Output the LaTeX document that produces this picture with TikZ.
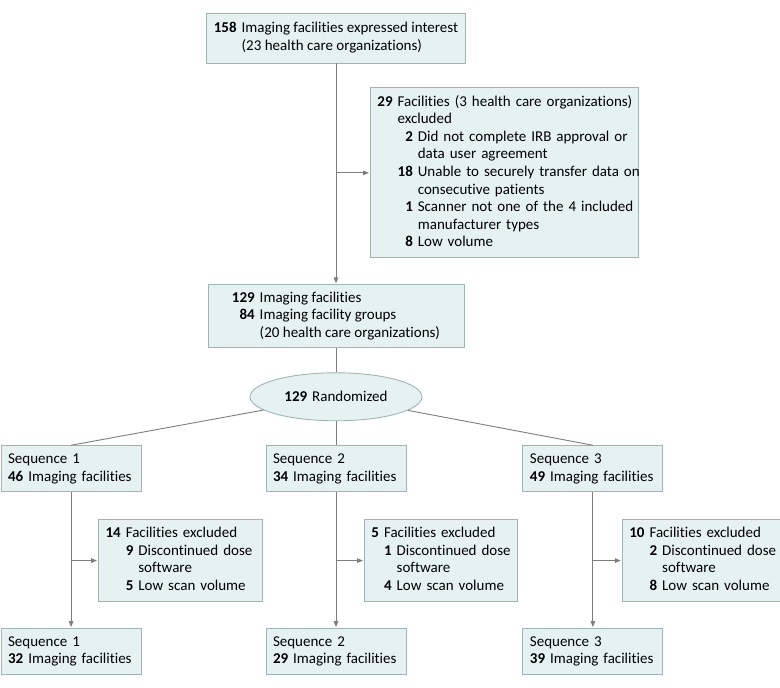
\documentclass[tikz,border=0pt]{standalone}
\usepackage{fontspec}
\setmainfont{Carlito}[Ligatures=NoCommon]
\usepackage{tikz}
\usetikzlibrary{positioning,shapes.geometric,arrows.meta}
\definecolor{boxfill}{RGB}{230,242,242}
\definecolor{boxline}{RGB}{160,180,182}
\definecolor{linkgray}{RGB}{125,125,125}

\begin{document}
\begin{tikzpicture}[x=1pt,y=1pt,
    font=\fontsize{15}{17.6}\selectfont,
    box/.style={rectangle,draw=boxline,fill=boxfill,line width=0.9pt,inner xsep=7pt,inner ysep=4pt},
    seq box/.style={box,minimum width=140pt,minimum height=46pt,text width=126pt,align=left},
    ex box/.style={box,minimum height=82pt,align=left},
    link/.style={draw=linkgray,line width=0.9pt},
    arrow/.style={link,shorten >=1pt,-{Triangle[length=6pt,width=4.5pt]}}]
  \useasboundingbox (0,0) rectangle (780,-688);

  \node[box,minimum width=258pt,minimum height=50pt] (interest) at (336,-38)
    {\begin{tabular}{@{}r@{\hspace{5pt}}l@{}}
      \textbf{158} & Imaging facilities expressed interest\\
                   & (23 health care organizations)
     \end{tabular}};
  \node[ex box,text width=254pt,minimum height=170pt] (excluded) [below right=24pt and 34pt of interest.south]
    {\begin{tabular}{@{}r@{\hspace{5pt}}r@{\hspace{5pt}}l@{}}
      \textbf{29} & \multicolumn{2}{@{}l@{}}{Facilities (3 health care organizations)}\\
                  & \multicolumn{2}{@{}l@{}}{excluded}\\
       & \textbf{2}  & Did not complete IRB approval or\\
       &             & data user agreement\\
       & \textbf{18} & Unable to securely transfer data on\\
       &             & consecutive patients\\
       & \textbf{1}  & Scanner not one of the 4 included\\
       &             & manufacturer types\\
       & \textbf{8}  & Low volume
     \end{tabular}};
  \node[box,minimum width=256pt,minimum height=63pt] (facilities) [below=221pt of interest]
    {\begin{tabular}{@{}r@{\hspace{5pt}}l@{}}
      \textbf{129} & Imaging facilities\\
      \textbf{84}  & Imaging facility groups\\
                   & (20 health care organizations)
     \end{tabular}};
  \node[ellipse,draw=boxline,fill=boxfill,line width=0.9pt,minimum width=172pt,minimum height=48pt,inner sep=0pt]
    (rand) [below=24pt of facilities] {\textbf{129}\hspace{5pt}Randomized};

  % sequences after randomization
  \node[seq box] (seq2) [below=24pt of rand]
    {\begin{tabular}{@{}r@{\hspace{5pt}}l@{}}\multicolumn{2}{@{}l@{}}{Sequence 2}\\ \textbf{34} & Imaging facilities\end{tabular}};
  \node[seq box] (seq1) [left=124pt of seq2]
    {\begin{tabular}{@{}r@{\hspace{5pt}}l@{}}\multicolumn{2}{@{}l@{}}{Sequence 1}\\ \textbf{46} & Imaging facilities\end{tabular}};
  \node[seq box] (seq3) [right=116pt of seq2]
    {\begin{tabular}{@{}r@{\hspace{5pt}}l@{}}\multicolumn{2}{@{}l@{}}{Sequence 3}\\ \textbf{49} & Imaging facilities\end{tabular}};

  \node[ex box,text width=150pt] (ex1) [below right=27pt and 27pt of seq1.south]
    {\begin{tabular}{@{}r@{\hspace{5pt}}r@{\hspace{5pt}}l@{}}
      \textbf{14} & \multicolumn{2}{@{}l@{}}{Facilities excluded}\\
       & \textbf{9} & Discontinued dose\\
       &            & software\\
       & \textbf{5} & Low scan volume
     \end{tabular}};
  \node[ex box,text width=139pt] (ex2) [below right=27pt and 28pt of seq2.south]
    {\begin{tabular}{@{}r@{\hspace{5pt}}r@{\hspace{5pt}}l@{}}
      \textbf{5} & \multicolumn{2}{@{}l@{}}{Facilities excluded}\\
       & \textbf{1} & Discontinued dose\\
       &            & software\\
       & \textbf{4} & Low scan volume
     \end{tabular}};
  \node[ex box,text width=145pt] (ex3) [below right=27pt and 29pt of seq3.south]
    {\begin{tabular}{@{}r@{\hspace{5pt}}r@{\hspace{5pt}}l@{}}
      \textbf{10} & \multicolumn{2}{@{}l@{}}{Facilities excluded}\\
       & \textbf{2} & Discontinued dose\\
       &            & software\\
       & \textbf{8} & Low scan volume
     \end{tabular}};

  \node[seq box] (fin1) [below=136pt of seq1]
    {\begin{tabular}{@{}r@{\hspace{5pt}}l@{}}\multicolumn{2}{@{}l@{}}{Sequence 1}\\ \textbf{32} & Imaging facilities\end{tabular}};
  \node[seq box] (fin2) [below=136pt of seq2]
    {\begin{tabular}{@{}r@{\hspace{5pt}}l@{}}\multicolumn{2}{@{}l@{}}{Sequence 2}\\ \textbf{29} & Imaging facilities\end{tabular}};
  \node[seq box] (fin3) [below=136pt of seq3]
    {\begin{tabular}{@{}r@{\hspace{5pt}}l@{}}\multicolumn{2}{@{}l@{}}{Sequence 3}\\ \textbf{39} & Imaging facilities\end{tabular}};

  % connectors
  \coordinate (split0) at (interest.south |- excluded.west);
  \coordinate (split1) at (seq1.south |- ex1.west);
  \coordinate (split2) at (seq2.south |- ex2.west);
  \coordinate (split3) at (seq3.south |- ex3.west);
  \draw[arrow] (interest) -- (facilities);
  \draw[arrow] (split0) -- (excluded);
  \draw[link] (facilities) -- (rand);
  \draw[link] (rand) -- (seq1.north);
  \draw[link] (rand) -- (seq2);
  \draw[link] (rand) -- (seq3.north);
  \draw[arrow] (seq1) -- (fin1);
  \draw[arrow] (seq2) -- (fin2);
  \draw[arrow] (seq3) -- (fin3);
  \draw[arrow] (split1) -- (ex1);
  \draw[arrow] (split2) -- (ex2);
  \draw[arrow] (split3) -- (ex3);
\end{tikzpicture}
\end{document}
